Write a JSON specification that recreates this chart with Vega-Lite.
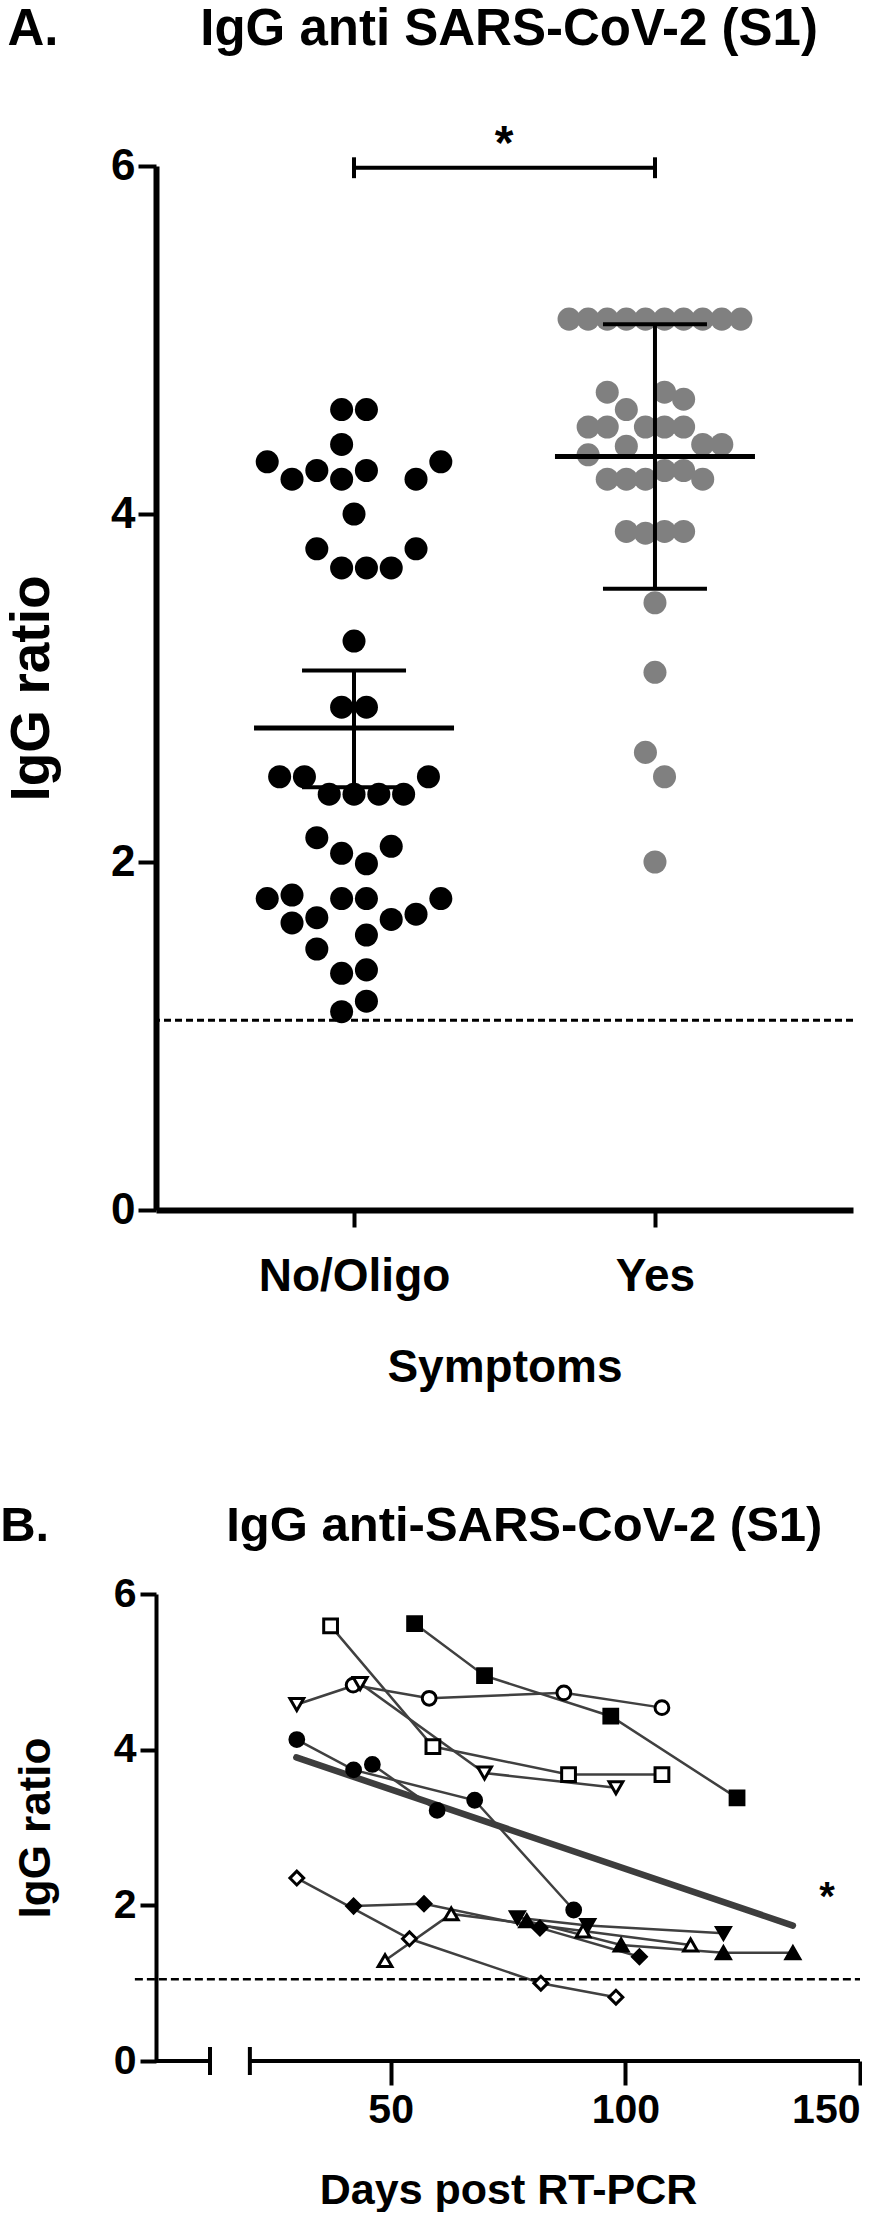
{
  "$schema": "https://vega.github.io/schema/vega-lite/v6.json",
  "background": "white",
  "padding": {"left": 0, "top": 4, "right": 0, "bottom": 0},
  "bounds": "flush",
  "spacing": 384,
  "config": {
    "font": "Liberation Sans",
    "view": {"stroke": null},
    "axis": {"grid": false, "labelFontWeight": "bold", "titleFontWeight": "bold", "labelColor": "black", "titleColor": "black", "domainColor": "black", "tickColor": "black", "labelFont": "Liberation Sans", "titleFont": "Liberation Sans", "labelLimit": 400},
    "title": {"fontWeight": "bold", "color": "black", "font": "Liberation Sans"},
    "text": {"font": "Liberation Sans"}
  },
  "datasets": {
    "swarm": [
      {"group": "No/Oligo", "ratio": 4.60, "slot": -1},
      {"group": "No/Oligo", "ratio": 4.60, "slot": 1},
      {"group": "No/Oligo", "ratio": 4.40, "slot": -1},
      {"group": "No/Oligo", "ratio": 4.30, "slot": -7},
      {"group": "No/Oligo", "ratio": 4.30, "slot": 7},
      {"group": "No/Oligo", "ratio": 4.25, "slot": -3},
      {"group": "No/Oligo", "ratio": 4.25, "slot": 1},
      {"group": "No/Oligo", "ratio": 4.20, "slot": -5},
      {"group": "No/Oligo", "ratio": 4.20, "slot": -1},
      {"group": "No/Oligo", "ratio": 4.20, "slot": 5},
      {"group": "No/Oligo", "ratio": 4.00, "slot": 0},
      {"group": "No/Oligo", "ratio": 3.80, "slot": -3},
      {"group": "No/Oligo", "ratio": 3.80, "slot": 5},
      {"group": "No/Oligo", "ratio": 3.69, "slot": -1},
      {"group": "No/Oligo", "ratio": 3.69, "slot": 1},
      {"group": "No/Oligo", "ratio": 3.69, "slot": 3},
      {"group": "No/Oligo", "ratio": 3.27, "slot": 0},
      {"group": "No/Oligo", "ratio": 2.89, "slot": -1},
      {"group": "No/Oligo", "ratio": 2.89, "slot": 1},
      {"group": "No/Oligo", "ratio": 2.49, "slot": -6},
      {"group": "No/Oligo", "ratio": 2.49, "slot": -4},
      {"group": "No/Oligo", "ratio": 2.49, "slot": 6},
      {"group": "No/Oligo", "ratio": 2.39, "slot": -2},
      {"group": "No/Oligo", "ratio": 2.39, "slot": 0},
      {"group": "No/Oligo", "ratio": 2.39, "slot": 2},
      {"group": "No/Oligo", "ratio": 2.39, "slot": 4},
      {"group": "No/Oligo", "ratio": 2.14, "slot": -3},
      {"group": "No/Oligo", "ratio": 2.09, "slot": 3},
      {"group": "No/Oligo", "ratio": 2.05, "slot": -1},
      {"group": "No/Oligo", "ratio": 1.99, "slot": 1},
      {"group": "No/Oligo", "ratio": 1.79, "slot": -7},
      {"group": "No/Oligo", "ratio": 1.81, "slot": -5},
      {"group": "No/Oligo", "ratio": 1.79, "slot": -1},
      {"group": "No/Oligo", "ratio": 1.79, "slot": 1},
      {"group": "No/Oligo", "ratio": 1.79, "slot": 7},
      {"group": "No/Oligo", "ratio": 1.65, "slot": -5},
      {"group": "No/Oligo", "ratio": 1.68, "slot": -3},
      {"group": "No/Oligo", "ratio": 1.67, "slot": 3},
      {"group": "No/Oligo", "ratio": 1.70, "slot": 5},
      {"group": "No/Oligo", "ratio": 1.58, "slot": 1},
      {"group": "No/Oligo", "ratio": 1.50, "slot": -3},
      {"group": "No/Oligo", "ratio": 1.36, "slot": -1},
      {"group": "No/Oligo", "ratio": 1.38, "slot": 1},
      {"group": "No/Oligo", "ratio": 1.20, "slot": 1},
      {"group": "No/Oligo", "ratio": 1.14, "slot": -1},
      {"group": "Yes", "ratio": 5.12, "slot": -6.93},
      {"group": "Yes", "ratio": 5.12, "slot": -5.39},
      {"group": "Yes", "ratio": 5.12, "slot": -3.85},
      {"group": "Yes", "ratio": 5.12, "slot": -2.31},
      {"group": "Yes", "ratio": 5.12, "slot": -0.77},
      {"group": "Yes", "ratio": 5.12, "slot": 0.77},
      {"group": "Yes", "ratio": 5.12, "slot": 2.31},
      {"group": "Yes", "ratio": 5.12, "slot": 3.85},
      {"group": "Yes", "ratio": 5.12, "slot": 5.39},
      {"group": "Yes", "ratio": 5.12, "slot": 6.93},
      {"group": "Yes", "ratio": 4.70, "slot": -3.85},
      {"group": "Yes", "ratio": 4.70, "slot": 0.77},
      {"group": "Yes", "ratio": 4.66, "slot": 2.31},
      {"group": "Yes", "ratio": 4.60, "slot": -2.31},
      {"group": "Yes", "ratio": 4.50, "slot": -5.39},
      {"group": "Yes", "ratio": 4.50, "slot": -3.85},
      {"group": "Yes", "ratio": 4.50, "slot": -0.77},
      {"group": "Yes", "ratio": 4.50, "slot": 0.77},
      {"group": "Yes", "ratio": 4.50, "slot": 2.31},
      {"group": "Yes", "ratio": 4.39, "slot": -2.31},
      {"group": "Yes", "ratio": 4.40, "slot": 3.85},
      {"group": "Yes", "ratio": 4.40, "slot": 5.39},
      {"group": "Yes", "ratio": 4.34, "slot": -5.39},
      {"group": "Yes", "ratio": 4.20, "slot": -3.85},
      {"group": "Yes", "ratio": 4.20, "slot": -2.31},
      {"group": "Yes", "ratio": 4.20, "slot": -0.77},
      {"group": "Yes", "ratio": 4.25, "slot": 0.77},
      {"group": "Yes", "ratio": 4.25, "slot": 2.31},
      {"group": "Yes", "ratio": 4.20, "slot": 3.85},
      {"group": "Yes", "ratio": 3.90, "slot": -2.31},
      {"group": "Yes", "ratio": 3.89, "slot": -0.77},
      {"group": "Yes", "ratio": 3.90, "slot": 0.77},
      {"group": "Yes", "ratio": 3.90, "slot": 2.31},
      {"group": "Yes", "ratio": 3.49, "slot": 0},
      {"group": "Yes", "ratio": 3.09, "slot": 0},
      {"group": "Yes", "ratio": 2.63, "slot": -0.77},
      {"group": "Yes", "ratio": 2.49, "slot": 0.77},
      {"group": "Yes", "ratio": 2.00, "slot": 0}
    ],
    "summary": [
      {"group": "No/Oligo", "mean": 2.77, "lower": 2.43, "upper": 3.10},
      {"group": "Yes", "mean": 4.33, "lower": 3.57, "upper": 5.09}
    ],
    "series": [
      {"subject": "S1", "day": 55.1, "ratio": 5.62},
      {"subject": "S1", "day": 70.0, "ratio": 4.95},
      {"subject": "S1", "day": 96.9, "ratio": 4.43},
      {"subject": "S1", "day": 123.8, "ratio": 3.38},
      {"subject": "S2", "day": 42.0, "ratio": 4.83},
      {"subject": "S2", "day": 58.2, "ratio": 4.66},
      {"subject": "S2", "day": 86.9, "ratio": 4.73},
      {"subject": "S2", "day": 107.8, "ratio": 4.54},
      {"subject": "S3", "day": 30.0, "ratio": 4.58},
      {"subject": "S3", "day": 43.5, "ratio": 4.85},
      {"subject": "S3", "day": 70.0, "ratio": 3.70},
      {"subject": "S3", "day": 98.0, "ratio": 3.51},
      {"subject": "S4", "day": 37.2, "ratio": 5.59},
      {"subject": "S4", "day": 59.0, "ratio": 4.04},
      {"subject": "S4", "day": 87.9, "ratio": 3.68},
      {"subject": "S4", "day": 107.8, "ratio": 3.68},
      {"subject": "S5", "day": 30.0, "ratio": 4.13},
      {"subject": "S5", "day": 42.1, "ratio": 3.74},
      {"subject": "S5", "day": 67.9, "ratio": 3.35},
      {"subject": "S5", "day": 89.0, "ratio": 1.94},
      {"subject": "S6", "day": 46.1, "ratio": 3.81},
      {"subject": "S6", "day": 59.9, "ratio": 3.22},
      {"subject": "S7", "day": 30.0, "ratio": 2.35},
      {"subject": "S7", "day": 54.0, "ratio": 1.57},
      {"subject": "S7", "day": 82.0, "ratio": 1.00},
      {"subject": "S7", "day": 98.0, "ratio": 0.82},
      {"subject": "S8", "day": 42.1, "ratio": 1.99},
      {"subject": "S8", "day": 57.1, "ratio": 2.02},
      {"subject": "S8", "day": 81.8, "ratio": 1.71},
      {"subject": "S8", "day": 103.0, "ratio": 1.34},
      {"subject": "S9", "day": 48.8, "ratio": 1.29},
      {"subject": "S9", "day": 62.9, "ratio": 1.89},
      {"subject": "S9", "day": 91.0, "ratio": 1.67},
      {"subject": "S9", "day": 113.9, "ratio": 1.49},
      {"subject": "S10", "day": 77.0, "ratio": 1.84},
      {"subject": "S10", "day": 92.0, "ratio": 1.74},
      {"subject": "S10", "day": 120.9, "ratio": 1.64},
      {"subject": "S11", "day": 79.0, "ratio": 1.80},
      {"subject": "S11", "day": 99.1, "ratio": 1.49},
      {"subject": "S11", "day": 120.9, "ratio": 1.39},
      {"subject": "S11", "day": 135.7, "ratio": 1.39}
    ]
  },
  "vconcat": [
    {
      "width": 697,
      "height": 1044,
      "title": {"text": "A.\u00a0\u00a0\u00a0\u00a0\u00a0\u00a0\u00a0\u00a0\u00a0\u00a0IgG anti SARS-CoV-2 (S1)", "anchor": "start", "frame": "bounds", "fontSize": 51, "dx": 3, "offset": 65},
      "layer": [
        {
          "data": {"name": "swarm"},
          "mark": {"type": "circle", "size": 530, "opacity": 1},
          "encoding": {
            "x": {"field": "group", "type": "nominal", "scale": {"type": "point", "domain": ["No/Oligo", "Yes"], "padding": 0.658},
                  "axis": {"title": "Symptoms", "labelAngle": 0, "labelFontSize": 46, "titleFontSize": 46, "tickSize": 17, "tickWidth": 4, "domainWidth": 6, "labelPadding": 27, "titlePadding": 46}},
            "xOffset": {"field": "slot", "type": "quantitative", "scale": {"domain": [-10, 10], "range": [-124, 124]}},
            "y": {"field": "ratio", "type": "quantitative", "scale": {"domain": [0, 6], "nice": false},
                  "axis": {"title": "IgG ratio", "values": [0, 2, 4, 6], "format": "d", "labelFontSize": 44, "titleFontSize": 55, "tickSize": 18, "tickWidth": 4, "domainWidth": 6, "labelPadding": 3, "titlePadding": 50}},
            "color": {"field": "group", "type": "nominal", "scale": {"domain": ["No/Oligo", "Yes"], "range": ["#000000", "#808080"]}, "legend": null}
          }
        },
        {
          "data": {"name": "summary"},
          "mark": {"type": "tick", "thickness": 5, "color": "black", "opacity": 1},
          "encoding": {"x": {"field": "group", "type": "nominal"}, "y": {"field": "mean", "type": "quantitative"}, "size": {"value": 200}}
        },
        {
          "data": {"name": "summary"},
          "mark": {"type": "rule", "strokeWidth": 4, "color": "black"},
          "encoding": {"x": {"field": "group", "type": "nominal"}, "y": {"field": "lower", "type": "quantitative"}, "y2": {"field": "upper"}}
        },
        {
          "data": {"name": "summary"},
          "mark": {"type": "tick", "thickness": 4, "color": "black", "opacity": 1},
          "encoding": {"x": {"field": "group", "type": "nominal"}, "y": {"field": "upper", "type": "quantitative"}, "size": {"value": 104}}
        },
        {
          "data": {"name": "summary"},
          "mark": {"type": "tick", "thickness": 4, "color": "black", "opacity": 1},
          "encoding": {"x": {"field": "group", "type": "nominal"}, "y": {"field": "lower", "type": "quantitative"}, "size": {"value": 104}}
        },
        {
          "data": {"values": [{}]},
          "mark": {"type": "rule", "strokeDash": [7, 4], "strokeWidth": 3, "color": "black"},
          "encoding": {"y": {"datum": 1.09, "type": "quantitative"}}
        },
        {
          "data": {"values": [{}]},
          "mark": {"type": "rule", "strokeWidth": 4, "color": "black"},
          "encoding": {"x": {"datum": "No/Oligo", "type": "nominal"}, "x2": {"datum": "Yes"}, "y": {"datum": 5.99, "type": "quantitative"}}
        },
        {
          "data": {"name": "summary"},
          "mark": {"type": "rule", "strokeWidth": 4, "color": "black"},
          "encoding": {"x": {"field": "group", "type": "nominal"}, "y": {"datum": 5.93, "type": "quantitative"}, "y2": {"datum": 6.05}}
        },
        {
          "data": {"values": [{}]},
          "mark": {"type": "text", "text": "*", "fontSize": 48, "fontWeight": "bold", "color": "black", "dx": 150},
          "encoding": {"x": {"datum": "No/Oligo", "type": "nominal"}, "y": {"datum": 6.12, "type": "quantitative"}}
        }
      ]
    },
    {
      "width": 704,
      "height": 467,
      "title": {"text": "B.\u00a0\u00a0\u00a0\u00a0\u00a0\u00a0\u00a0\u00a0\u00a0\u00a0\u00a0\u00a0\u00a0IgG anti-SARS-CoV-2 (S1)", "anchor": "start", "frame": "bounds", "fontSize": 49, "dx": -14, "offset": 22},
      "layer": [
        {
          "data": {"name": "series"},
          "mark": {"type": "line", "color": "#404040", "strokeWidth": 2.5},
          "encoding": {
            "x": {"field": "day", "type": "quantitative", "scale": {"domain": [0, 150], "nice": false},
                  "axis": {"title": "Days post RT-PCR", "values": [50, 100, 150], "domain": false, "labelFontSize": 41, "titleFontSize": 43, "tickSize": 24, "tickWidth": 4, "labelPadding": 5, "titlePadding": 39}},
            "y": {"field": "ratio", "type": "quantitative", "scale": {"domain": [0, 6], "nice": false},
                  "axis": {"title": "IgG ratio", "values": [0, 2, 4, 6], "format": "d", "labelFontSize": 41, "titleFontSize": 44, "tickSize": 16, "tickWidth": 4, "domainWidth": 4, "labelPadding": 4, "titlePadding": 55}},
            "detail": {"field": "subject", "type": "nominal"}
          }
        },
        {
          "data": {"values": [{}]},
          "mark": {"type": "rule", "strokeWidth": 6.5, "color": "#3d3d3d", "strokeCap": "round"},
          "encoding": {"x": {"datum": 29.9}, "x2": {"datum": 135.7}, "y": {"datum": 3.90}, "y2": {"datum": 1.74}}
        },
        {
          "data": {"values": [{}]},
          "mark": {"type": "rule", "strokeDash": [8, 4], "strokeWidth": 2.5, "color": "black"},
          "encoding": {"x": {"datum": -4.5}, "x2": {"datum": 150}, "y": {"datum": 1.05}}
        },
        {
          "data": {"values": [{}]},
          "mark": {"type": "rule", "strokeWidth": 4, "color": "black"},
          "encoding": {"x": {"datum": 0}, "x2": {"datum": 11.5}, "y": {"datum": 0}}
        },
        {
          "data": {"values": [{}]},
          "mark": {"type": "rule", "strokeWidth": 4, "color": "black"},
          "encoding": {"x": {"datum": 20}, "x2": {"datum": 150}, "y": {"datum": 0}}
        },
        {
          "data": {"values": [{}]},
          "mark": {"type": "rule", "strokeWidth": 4, "color": "black"},
          "encoding": {"x": {"datum": 11.5}, "y": {"datum": -0.18}, "y2": {"datum": 0.18}}
        },
        {
          "data": {"values": [{}]},
          "mark": {"type": "rule", "strokeWidth": 4, "color": "black"},
          "encoding": {"x": {"datum": 20}, "y": {"datum": -0.18}, "y2": {"datum": 0.18}}
        },
        {
          "data": {"name": "series"},
          "mark": {"type": "point", "filled": true, "size": 190, "stroke": "black", "strokeWidth": 3, "opacity": 1},
          "encoding": {
            "x": {"field": "day", "type": "quantitative"},
            "y": {"field": "ratio", "type": "quantitative"},
            "shape": {"field": "subject", "type": "nominal", "scale": {"domain": ["S1","S2","S3","S4","S5","S6","S7","S8","S9","S10","S11"], "range": ["square","circle","triangle-down","square","circle","circle","diamond","diamond","triangle-up","triangle-down","triangle-up"]}, "legend": null},
            "fill": {"field": "subject", "type": "nominal", "scale": {"domain": ["S1","S2","S3","S4","S5","S6","S7","S8","S9","S10","S11"], "range": ["black","white","white","white","black","black","white","black","white","black","black"]}, "legend": null}
          }
        },
        {
          "data": {"values": [{}]},
          "mark": {"type": "text", "text": "*", "fontSize": 40, "fontWeight": "bold", "color": "black"},
          "encoding": {"x": {"datum": 143}, "y": {"datum": 2.10}}
        }
      ]
    }
  ]
}
